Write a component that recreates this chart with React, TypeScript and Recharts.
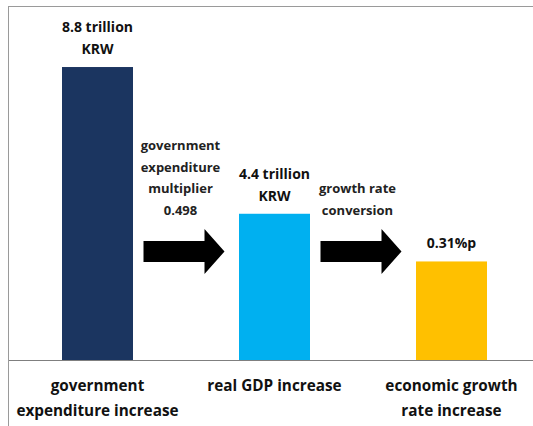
import React from "react";
import { BarChart, Bar, XAxis, YAxis, Cell } from "recharts";

const categoryLines: string[][] = [
  ["government", "expenditure increase"],
  ["real GDP increase"],
  ["economic growth", "rate increase"],
];
const barHeights: number[] = [8.8, 4.4, 2.97];
const valueLabels: string[][] = [
  ["8.8 trillion", "KRW"],
  ["4.4 trillion", "KRW"],
  ["0.31%p"],
];
const arrowLabels: string[][] = [
  ["government", "expenditure", "multiplier", "0.498"],
  ["growth rate", "conversion"],
];
const barColors: string[] = ["#1B3560", "#00B0F0", "#FFC000"];

const data = categoryLines.map((lines, i) => ({
  name: lines.join(" "),
  value: barHeights[i],
  idx: i,
}));

const FONT = "'Open Sans', 'Noto Sans', sans-serif";

const BarShape = (props: any) => {
  const { x, y, width, height, payload } = props;
  const i = payload.idx;
  const base = y + height;
  const cx = x + width / 2;
  const vl = valueLabels[i];
  const lastBaseline = y - 13;
  const elems: any[] = [];
  elems.push(<rect key="r" x={x} y={y} width={width} height={height} fill={barColors[i]} />);
  vl.forEach((t, k) => {
    elems.push(
      <text key={"v" + k} x={cx} y={lastBaseline - (vl.length - 1 - k) * 22} textAnchor="middle"
        fontFamily={FONT} fontWeight={700} fontSize={14} fill="#111">{t}</text>
    );
  });
  if (i < arrowLabels.length) {
    const right = x + width;
    const ac = right + 51;
    const ay = base - 109;
    const x0 = ac - 40.5, xh = ac + 20.5, x1 = ac + 40.5;
    const pts = [
      [x0, ay - 10.5], [xh, ay - 10.5], [xh, ay - 22.5], [x1, ay],
      [xh, ay + 22.5], [xh, ay + 10.5], [x0, ay + 10.5],
    ].map((p) => p.join(",")).join(" ");
    elems.push(<polygon key="a" points={pts} fill="#000" />);
    const al = arrowLabels[i];
    const tcx = right + 47.5;
    const lastB = ay - 42 + 5;
    al.forEach((t, k) => {
      elems.push(
        <text key={"a" + k} x={tcx} y={lastB - (al.length - 1 - k) * 21.5} textAnchor="middle"
          fontFamily={FONT} fontWeight={700} fontSize={13} fill="#222">{t}</text>
      );
    });
  }
  return <g>{elems}</g>;
};

const CatTick = (props: any) => {
  const { x, y, index } = props;
  const lines = categoryLines[index] || [];
  return (
    <g>
      {lines.map((t, k) => (
        <text key={k} x={x} y={y + 30 + k * 25} textAnchor="middle"
          fontFamily={FONT} fontWeight={700} fontSize={15.3} fill="#111">{t}</text>
      ))}
    </g>
  );
};

export default function App() {
  return (
    <div style={{ position: "absolute", left: 0, top: 0, width: 533, height: 426, overflow: "hidden", background: "#fff" }}>
      <div style={{ position: "absolute", left: 8, top: 6, width: 530, height: 430, borderLeft: "1px solid #9a9a9a", borderTop: "1px solid #9a9a9a" }} />
      <div style={{ position: "absolute", left: 0, top: 0 }}>
        <BarChart width={540} height={426} data={data} margin={{ top: 7, right: 0, left: 9, bottom: 0 }} barCategoryGap={0}>
          <YAxis hide domain={[0, 10.6]} />
          <XAxis dataKey="name" height={65.5} tickLine={false} tickSize={0} tickMargin={0}
            axisLine={{ stroke: "#7f7f7f" }} tick={<CatTick />} interval={0} />
          <Bar dataKey="value" barSize={71} isAnimationActive={false} shape={<BarShape />}>
            {data.map((d, i) => <Cell key={i} fill={barColors[i]} />)}
          </Bar>
        </BarChart>
      </div>
    </div>
  );
}
